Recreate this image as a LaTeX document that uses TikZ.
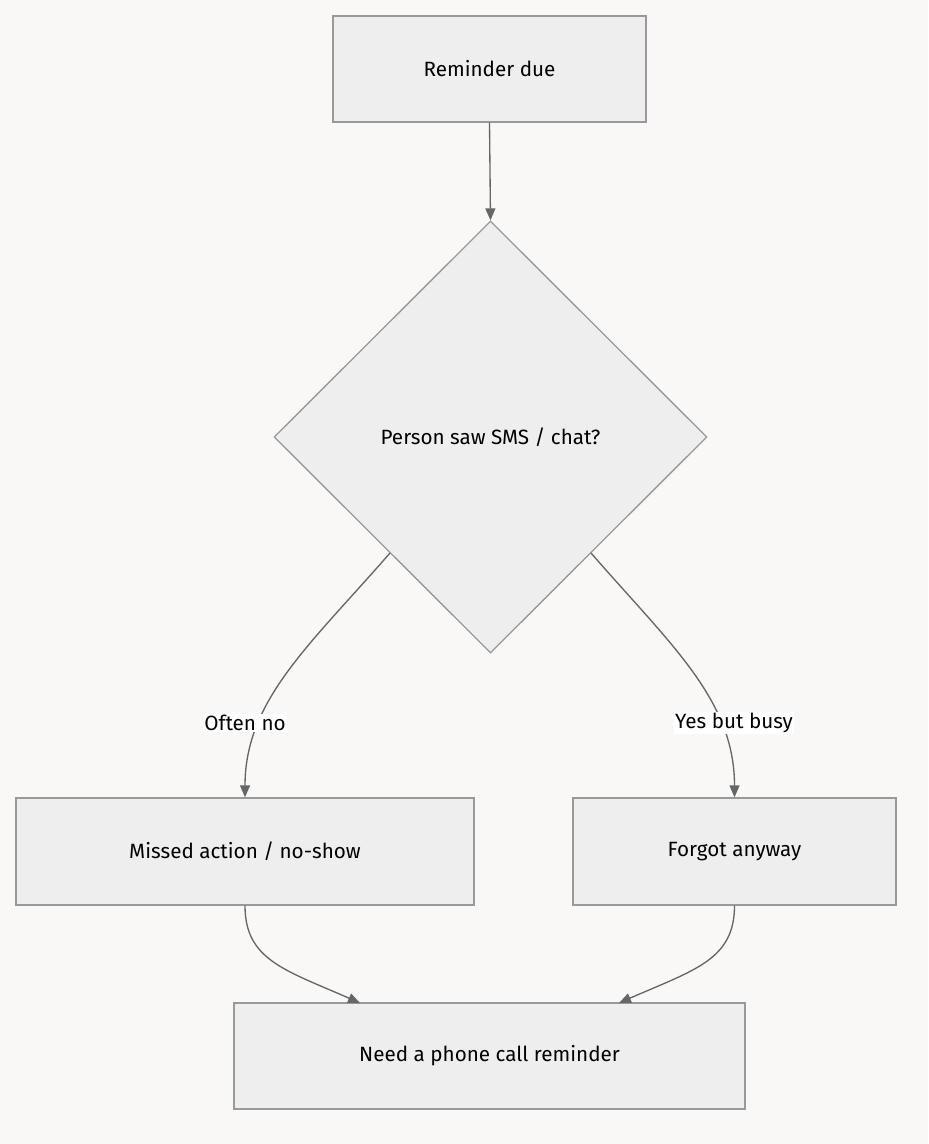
\documentclass[tikz,border=0pt]{standalone}
\usepackage{fontspec}
\setmainfont{Fira Sans}
\usetikzlibrary{shapes.geometric,arrows.meta}
\definecolor{bg}{HTML}{F9F8F7}
\definecolor{nf}{HTML}{EEEEEE}
\definecolor{nb}{HTML}{999999}
\definecolor{ln}{HTML}{666666}
\begin{document}
\begin{tikzpicture}[x=0.75pt,y=-0.75pt,
  box/.style={draw=nb,fill=nf,line width=1pt,rectangle,inner sep=0pt,font=\fontsize{15.5pt}{18pt}\selectfont},
  lab/.style={fill=white,inner sep=1pt,font=\fontsize{15.5pt}{18pt}\selectfont},
  arr/.style={draw=ln,line width=1pt,-{Triangle[length=9pt,width=7.5pt]}}]
\fill[bg] (0,0) rectangle (928,1144);
\useasboundingbox (0,0) rectangle (928,1144);
\node[box,minimum width=234.75pt,minimum height=79.5pt] (r) at (489.5,69) {Reminder due};
\node[box,shape=diamond,aspect=1,minimum width=324.75pt,minimum height=324pt] (d) at (490.5,437) {Person saw SMS / chat?};
\node[box,minimum width=343.5pt,minimum height=80.25pt] (m) at (245,851.5) {Missed action / no-show};
\node[box,minimum width=242.25pt,minimum height=80.25pt] (f) at (734.5,851.5) {Forgot anyway};
\node[box,minimum width=383.25pt,minimum height=79.5pt] (n) at (489.5,1056) {Need a phone call reminder};
\coordinate (dl) at (390,553);
\coordinate (dr) at (591,553);
\coordinate (nl) at (360,1003);
\coordinate (nr) at (619,1003);
\draw[arr] (r.south) -- (d.north);
\draw[arr] (dl) .. controls (310,645) and (245,700) .. (m.north);
\draw[arr] (dr) .. controls (671,645) and (734.5,700) .. (f.north);
\draw[arr] (m.south) .. controls (245,960) and (285,970) .. (nl);
\draw[arr] (f.south) .. controls (734.5,960) and (694,970) .. (nr);
\node[lab] (l1) at (245,723) {Often no};
\node[lab] (l2) at (734,723) {Yes but busy};
\end{tikzpicture}
\end{document}
